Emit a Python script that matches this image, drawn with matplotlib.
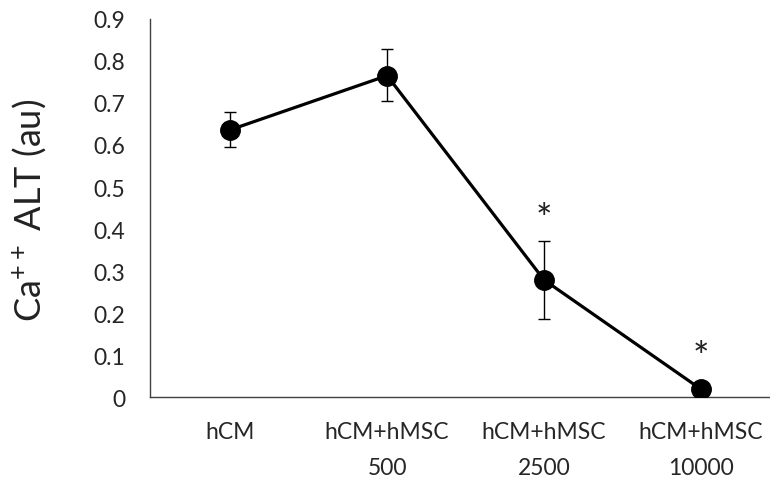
import matplotlib
matplotlib.use("Agg")
import matplotlib.pyplot as plt

# データ
groups = ["hCM", "hCM+hMSC\n500", "hCM+hMSC\n2500", "hCM+hMSC\n10000"]
alt_mean = [0.636, 0.765, 0.279, 0.019]
alt_err_low = [0.041, 0.061, 0.092, 0.0]
alt_err_high = [0.043, 0.064, 0.092, 0.0]
star_y = [None, None, 0.422, 0.093]   # 有意差 * の位置

plt.rcParams["font.family"] = ["Lato", "DejaVu Sans"]
plt.rcParams["mathtext.default"] = "regular"

AX_L, AX_B, AX_W, AX_H = 0.195, 0.179, 0.805, 0.780
fig = plt.figure(figsize=(7.7, 4.85), dpi=100)
ax = fig.add_axes([AX_L, AX_B, AX_W, AX_H])

x = list(range(len(groups)))
ax.errorbar(x, alt_mean, yerr=[alt_err_low, alt_err_high], fmt="none",
            ecolor="black", elinewidth=1.0, capsize=4, capthick=1.0, zorder=2)
ax.plot(x, alt_mean, "-o", color="black", linewidth=2.3, markersize=14,
        zorder=3)

for xi, sy in zip(x, star_y):
    if sy is not None:
        ax.text(xi, sy, "*", ha="center", va="center", fontsize=28,
                color="#222222")

ax.set_xlim(-0.51, 3.44)
ax.set_ylim(0, 0.9)
ax.set_yticks([i / 10 for i in range(10)])
ax.set_yticklabels(["0"] + [f"{i / 10:.1f}" for i in range(1, 10)])
ax.set_xticks(x)
ax.set_xticklabels(groups, linespacing=1.9)
ax.tick_params(axis="both", length=0, labelsize=16.5, colors="#262626")
ax.tick_params(axis="x", pad=17)
ax.tick_params(axis="y", pad=18)

for side in ["top", "right"]:
    ax.spines[side].set_visible(False)
for side in ["left", "bottom"]:
    ax.spines[side].set_color("#404040")
    ax.spines[side].set_linewidth(1.0)

ax.set_ylabel("Ca$^{++}$ ALT (au)", fontsize=26, color="#222222")
# ラベル右端を x≈48px, 中心を y≈210px に
ax.yaxis.set_label_coords((48 - 150) / (AX_W * 770), (398 - 210) / (AX_H * 485))

fig.savefig("out.png", dpi=100)
